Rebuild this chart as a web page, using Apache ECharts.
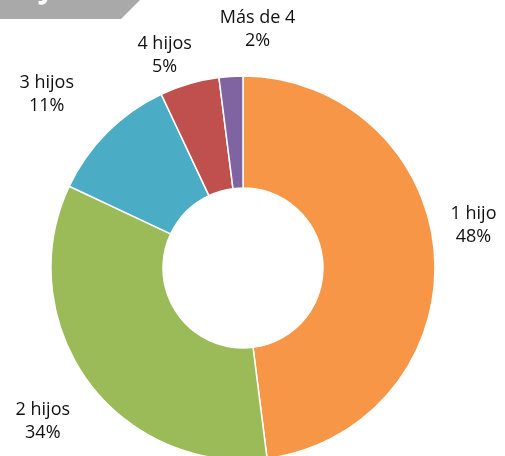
<!DOCTYPE html>
<html>
<head>
<meta charset="utf-8">
<script src="https://cdn.jsdelivr.net/npm/echarts@6/dist/echarts.min.js"></script>
<style>
  html, body { margin: 0; padding: 0; background: #fff; }
  #chart { width: 505px; height: 456px; }
</style>
</head>
<body>
<div id="chart"></div>
<script>
// datos
const categories = ["1 hijo", "2 hijos", "3 hijos", "4 hijos", "Más de 4"]
const percents = [48, 34, 11, 5, 2]
const colors = ["#F79646", "#9BBB59", "#4BACC6", "#C0504D", "#8064A2"]

// ajuste fino de etiquetas (px, relativo al punto radial)
const labelDx = [-14, -2, -23, -10, 30]
const labelDy = [-27, 9, 0, 23, 6]

const cx = 243, cy = 268, labelR = 245
const total = percents.reduce((a, b) => a + b, 0)

const chart = echarts.init(document.getElementById("chart"), null, { renderer: "canvas" })

const option = {
  backgroundColor: "#fff",
  animation: false,
  graphic: [
    {
      type: "polygon",
      shape: { points: [[0, 0], [140, 0], [121, 19], [0, 19]] },
      style: { fill: "#a9a9a9" }
    },
    {
      type: "text",
      left: 10,
      top: -23,
      style: {
        text: "HIJOS",
        fill: "#fff",
        font: "bold 28px 'Open Sans', sans-serif"
      }
    }
  ],
  series: [
    {
      type: "pie",
      center: [cx, cy],
      radius: [80, 192],
      startAngle: 90,
      clockwise: true,
      avoidLabelOverlap: false,
      itemStyle: { borderColor: "#fff", borderWidth: 1.5 },
      label: {
        show: true,
        position: "outside",
        formatter: (p) => p.name + "\n" + p.value + "%",
        fontFamily: "'Open Sans', 'Noto Sans', sans-serif",
        fontSize: 18,
        lineHeight: 23,
        color: "#111",
        align: "center"
      },
      labelLine: { show: false },
      labelLayout: function (params) {
        let i = params.dataIndex
        let before = 0
        for (let k = 0; k < i; k++) before += percents[k]
        let mid = ((before + percents[i] / 2) / total) * Math.PI * 2
        return {
          x: cx + labelR * Math.sin(mid) + labelDx[i],
          y: cy - labelR * Math.cos(mid) + labelDy[i],
          align: "center",
          verticalAlign: "middle"
        }
      },
      data: categories.map((name, i) => ({
        name: name,
        value: percents[i],
        itemStyle: { color: colors[i] }
      }))
    }
  ]
}

chart.setOption(option)
</script>
</body>
</html>
